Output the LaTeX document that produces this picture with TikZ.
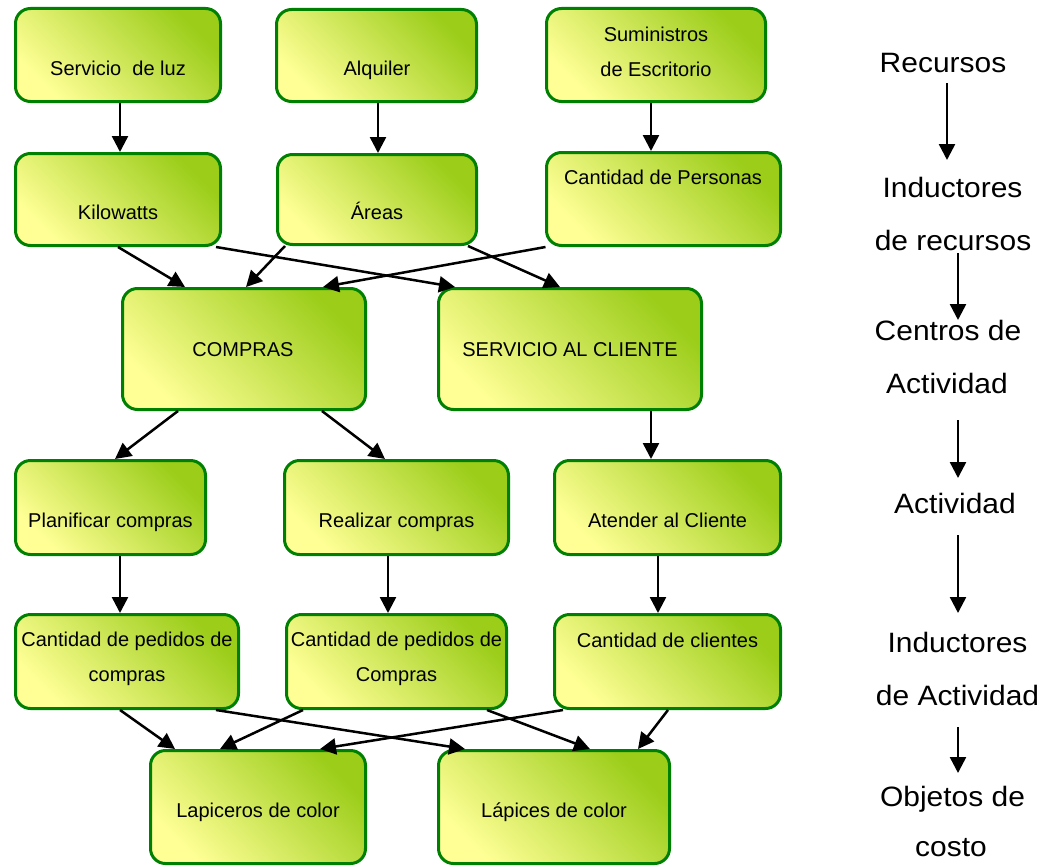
\documentclass[tikz,border=0pt]{standalone}
\usepackage{fontspec}
\setmainfont{Liberation Sans}
\newfontfamily\sidefont[FakeStretch=1.07]{Liberation Sans}
\usetikzlibrary{arrows.meta,shadings}
\definecolor{bordergreen}{RGB}{0,128,0}
\definecolor{topgreen}{RGB}{155,205,25}
\definecolor{paleyellow}{RGB}{255,255,150}
\tikzset{
  box/.style={draw=bordergreen, line width=3pt, rounded corners=15pt,
    top color=topgreen, bottom color=paleyellow, shading angle=-45,
    inner sep=0pt},
  lbl/.style={font=\fontsize{20}{35}\selectfont, anchor=base, align=center, inner sep=0pt},
  side/.style={font=\sidefont\fontsize{28}{34}\selectfont, anchor=base, inner sep=0pt},
  arr/.style={line width=2.5pt, -{Triangle[length=16pt,width=16pt]}},
}
\begin{document}
\begin{tikzpicture}[x=1pt,y=-1pt]
\useasboundingbox (0,0) rectangle (1059,867);
% boxes
\node[box, minimum width=205, minimum height=93] (luz) at (118,55) {};
\node[box, minimum width=200, minimum height=92] (alq) at (376.5,55.5) {};
\node[box, minimum width=219, minimum height=93] (sum) at (656,55) {};
\node[box, minimum width=205, minimum height=92] (kw) at (118,199.5) {};
\node[box, minimum width=199, minimum height=90] (ar) at (377,199.5) {};
\node[box, minimum width=234, minimum height=93] (cp) at (663.5,199) {};
\node[box, minimum width=243, minimum height=121] (comp) at (244,349) {};
\node[box, minimum width=263, minimum height=121] (sc) at (570,349) {};
\node[box, minimum width=190, minimum height=94] (plan) at (110.5,507.5) {};
\node[box, minimum width=224, minimum height=94] (real) at (396.5,507.5) {};
\node[box, minimum width=226, minimum height=94] (aten) at (667.5,507.5) {};
\node[box, minimum width=223, minimum height=94] (cpc) at (127,661.5) {};
\node[box, minimum width=220, minimum height=94] (cpC) at (396.5,661.5) {};
\node[box, minimum width=226, minimum height=94] (ccl) at (667.5,661.5) {};
\node[box, minimum width=215, minimum height=113] (lap) at (258,807) {};
\node[box, minimum width=231, minimum height=113] (lpc) at (554,807) {};
% labels
\node[lbl] (tluz) at (118,75) {Servicio\ \ de luz};
\node[lbl] (talq) at (377,75) {Alquiler};
\node[lbl] (tsum) at (656,76) {Suministros\\de Escritorio};
\node[lbl] (tkw) at (118,219) {Kilowatts};
\node[lbl] (tar) at (377,219) {Áreas};
\node[lbl] (tcp) at (663,184) {Cantidad de Personas};
\node[lbl] (tcomp) at (243,356) {COMPRAS};
\node[lbl] (tsc) at (570,356) {SERVICIO AL CLIENTE};
\node[lbl] (tplan) at (110.5,527) {Planificar compras};
\node[lbl] (treal) at (396.5,527) {Realizar compras};
\node[lbl] (taten) at (667.5,527) {Atender al Cliente};
\node[lbl] (tcpc) at (127,681) {Cantidad de pedidos de\\compras};
\node[lbl] (tcpC) at (396.5,681) {Cantidad de pedidos de\\Compras};
\node[lbl] (tccl) at (667.5,647) {Cantidad de clientes};
\node[lbl] (tlap) at (258,817) {Lapiceros de color};
\node[lbl] (tlpc) at (554,817) {Lápices de color};
% connectors
\draw[arr] ([xshift=2]luz.south) -- ([xshift=2]kw.north);
\draw[arr] ([xshift=1.5]alq.south) -- ([xshift=1]ar.north);
\draw[arr] ([xshift=-5]sum.south) -- ([xshift=-12.5]cp.north);
\draw[arr] ([xshift=0]kw.south) -- ([xshift=-59]comp.north);
\draw[arr] ([xshift=98]kw.south) -- ([xshift=-115]sc.north);
\draw[arr] ([xshift=-92]ar.south) -- ([xshift=2]comp.north);
\draw[arr] ([xshift=91]ar.south) -- ([xshift=-10]sc.north);
\draw[arr] ([xshift=-118]cp.south) -- ([xshift=79]comp.north);
\draw[arr] ([xshift=-66]comp.south) -- ([xshift=4.5]plan.north);
\draw[arr] ([xshift=78]comp.south) -- ([xshift=-11.5]real.north);
\draw[arr] ([xshift=81]sc.south) -- ([xshift=-16.5]aten.north);
\draw[arr] ([xshift=9.5]plan.south) -- ([xshift=-7]cpc.north);
\draw[arr] ([xshift=-8.5]real.south) -- ([xshift=-8.5]cpC.north);
\draw[arr] ([xshift=-9.5]aten.south) -- ([xshift=-9.5]ccl.north);
\draw[arr] ([xshift=-7]cpc.south) -- ([xshift=-83]lap.north);
\draw[arr] ([xshift=89]cpc.south) -- ([xshift=-89]lpc.north);
\draw[arr] ([xshift=-93.5]cpC.south) -- ([xshift=-38]lap.north);
\draw[arr] ([xshift=90.5]cpC.south) -- ([xshift=36]lpc.north);
\draw[arr] ([xshift=-104.5]ccl.south) -- ([xshift=62]lap.north);
\draw[arr] ([xshift=0.5]ccl.south) -- ([xshift=84]lpc.north);
% right column
\node[side] (r1) at (943,73) {Recursos};
\node[side] (r2) at (952.5,197) {Inductores};
\node[side] (r3) at (953,250) {de recursos};
\node[side] (r4) at (948,340) {Centros de};
\node[side] (r5) at (947,393) {Actividad};
\node[side] (r6) at (955,513) {Actividad};
\node[side] (r7) at (957.5,652) {Inductores};
\node[side] (r8) at (957.5,705) {de Actividad};
\node[side] (r9) at (952.5,806) {Objetos de};
\node[side] (r10) at (951,856) {costo};
\coordinate (a1s) at (947,83); \coordinate (a1e) at (947,160);
\coordinate (a2s) at (958,253); \coordinate (a2e) at (958,320);
\coordinate (a3s) at (958,420); \coordinate (a3e) at (958,478);
\coordinate (a4s) at (958,535); \coordinate (a4e) at (958,613);
\coordinate (a5s) at (958,727); \coordinate (a5e) at (958,773);
\draw[arr] (a1s) -- (a1e);
\draw[arr] (a2s) -- (a2e);
\draw[arr] (a3s) -- (a3e);
\draw[arr] (a4s) -- (a4e);
\draw[arr] (a5s) -- (a5e);
\end{tikzpicture}
\end{document}
